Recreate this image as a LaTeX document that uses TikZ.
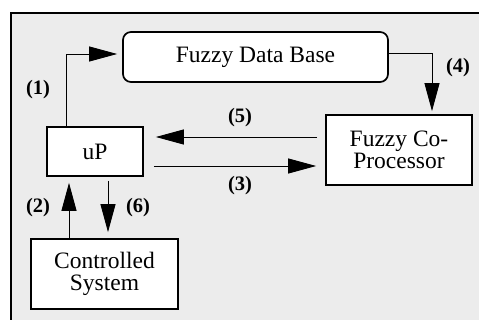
\documentclass[tikz,border=0pt]{standalone}
\usepackage{fontspec}
\setmainfont{Liberation Serif}
\usetikzlibrary{calc,positioning,arrows.meta}
\definecolor{panelgray}{RGB}{236,236,236}
\tikzset{
	blockbox/.style={draw,line width=1.7pt,fill=white,align=center,inner sep=0pt,
		font=\fontsize{23.5}{21.5}\selectfont},
	flow/.style={line width=0.9pt,-{Triangle[length=28pt,width=15pt]}},
	tag/.style={font=\fontsize{20.5}{22}\selectfont\bfseries},
}
\begin{document}
\begin{tikzpicture}[x=1pt,y=-1pt]
	\useasboundingbox (0,0) rectangle (479,320);
	\clip (0,0) rectangle (479,320);
	\fill[white] (0,0) rectangle (479,320);
	\filldraw[fill=panelgray,line width=2pt] (11,13) rectangle (490,330);

	\node[blockbox,rounded corners=8pt,minimum width=265pt,minimum height=50pt] (db) at (255.5,57) {Fuzzy Data Base};
	\node[blockbox,minimum width=96pt,minimum height=49pt] (up) at (95,151.5) {uP};
	\node[blockbox,minimum width=146pt,minimum height=70pt] (co) at (399,150) {Fuzzy Co-\\Processor};
	\node[blockbox,minimum width=147pt,minimum height=70pt] (cs) at (104.5,274) {Controlled\\System};

	\draw[flow,shorten >=5pt] ([xshift=-29pt]up.north) |- ([yshift=3pt]db.west);
	\draw[flow,shorten >=3pt] ([yshift=4pt]db.east) -| ([xshift=33pt]co.north);
	\draw[flow,shorten <=8pt,shorten >=12pt] ([yshift=13pt]co.west) -- ([yshift=13pt]co.west -| up.east);
	\draw[flow,shorten <=10pt,shorten >=9pt] ([yshift=-14.5pt]up.east) -- ([yshift=-14.5pt]up.east -| co.west);
	\draw[flow,shorten >=6pt] ([xshift=-35.5pt]cs.north) -- ([xshift=-35.5pt]cs.north |- up.south);
	\draw[flow,shorten <=4pt,shorten >=6pt] ([xshift=13pt]up.south) -- ([xshift=13pt]up.south |- cs.north);

	\node[tag] (t1) at (38,90) {(1)};
	\node[tag] (t2) at (38,208) {(2)};
	\node[tag] (t3) at (240,186) {(3)};
	\node[tag] (t4) at (458,68) {(4)};
	\node[tag] (t5) at (240,118) {(5)};
	\node[tag] (t6) at (138,208) {(6)};
\end{tikzpicture}
\end{document}
